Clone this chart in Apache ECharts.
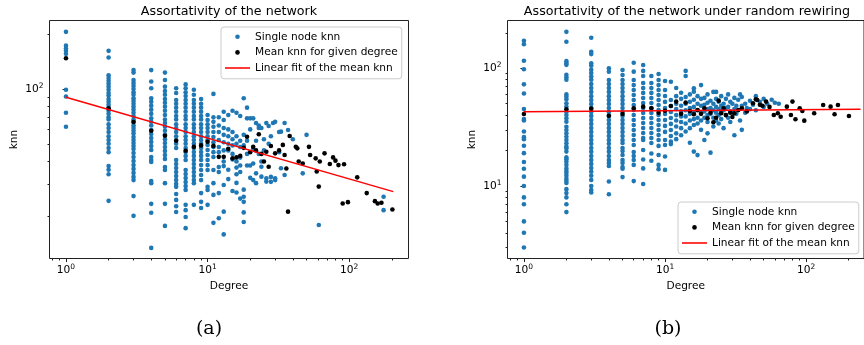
<!DOCTYPE html>
<html>
<head>
<meta charset="utf-8">
<script src="https://cdn.jsdelivr.net/npm/echarts@6/dist/echarts.min.js"></script>
<style>
html, body { margin: 0; padding: 0; background: #fff; }
#chart { width: 864px; height: 345px; }
</style>
</head>
<body>
<div id="chart"></div>
<script>
// ---- data: (a) original network ----
const degA = [1, 2, 3, 4, 5, 6, 7, 8, 9, 10, 11, 12, 13, 14, 15, 16, 17, 18, 19, 20,
  21, 22, 23, 24, 25, 26, 27, 28, 29, 30, 32, 33, 35, 37, 40, 47, 50, 61, 175]
const knnA = [
  [206, 173, 167, 162, 156, 99, 91, 74, 62],
  [162, 149, 119, 115, 111, 107, 103, 99, 95, 92, 88, 85, 82, 79, 76, 73, 70, 68, 64, 61, 58, 55, 52.5, 50, 47.4, 45, 37.7, 36, 34, 24.3],
  [127, 123, 112, 108, 104, 100, 96, 93, 89, 86, 83, 80, 77, 74, 71, 68, 66, 63, 61, 59, 57, 54.5, 52.5, 50.5, 48.6, 46.8, 44.5, 42.3, 40.2, 38.2, 36.4, 34.6, 32.9, 31.6, 25.8, 20.1],
  [127, 110, 101, 89, 85, 81, 77, 73, 69, 66, 63, 59.5, 56.6, 53.8, 51.2, 48.6, 46.2, 42.3, 40.7, 39.7, 31.2, 30.4, 23.4, 20.9, 13.4],
  [123, 112, 103, 97.5, 93, 88, 84, 80, 76, 72, 68, 65, 62, 59, 56, 53, 50.5, 48, 45.7, 43.4, 41.3, 37.3, 35.9, 30.4, 23.4, 17.7],
  [101, 95, 87, 83, 79, 75, 71, 68, 64, 61, 58, 55, 52.5, 50, 47.4, 40.7, 38.7, 36.8, 35, 33.3, 31.6, 30.1, 29, 26.5, 24.6, 22.7, 21.1],
  [106, 101, 96, 91.5, 87, 83, 79, 75, 71, 68, 64, 61, 58, 55, 52.5, 50, 47.4, 45.1, 42.9, 40.7, 35.9, 34.1, 32.4, 30.8, 29.3, 27.9, 23.1, 21.6, 19.8, 17.2],
  [99, 93, 87, 83, 79, 75, 71, 68, 64, 61, 58, 55, 52.5, 50, 47.4, 45.1, 42.9, 40.7, 38.7, 36.8, 35, 33.3, 31.6, 30.4, 23.1],
  [88, 83, 79, 75, 71, 68, 64, 61, 58, 55, 52.5, 50, 47.4, 45.1, 42.9, 40.7, 38.2, 35.9, 33.7, 31.6, 26.8, 24, 22.2],
  [72, 67.6, 64, 61, 58, 55, 52.5, 49.3, 46.2, 43.4, 40.7, 38.2, 35.9, 29, 27.9, 23.1],
  [94, 70, 66, 62, 58, 54.5, 51, 48, 45, 42.3, 35.9, 30.4, 26.2, 18.4],
  [70, 63, 58, 52.5, 48, 45, 37.3, 35, 26.8, 19.5],
  [75, 67.6, 61, 56, 51, 46, 40, 37.7, 29.7, 21.2, 15.9],
  [72, 60, 55, 50, 46, 36, 32],
  [76, 58, 53, 49, 44, 41, 27.5],
  [74, 55, 50, 40, 37, 34, 30.5, 27],
  [71, 52, 48, 42, 38, 35, 25],
  [89, 56, 49, 28, 25.6, 24, 21, 18.6],
  [79, 69, 52, 44, 38],
  [69, 60, 38, 32.5],
  [69, 47, 39, 31.6],
  [65, 52, 34.4, 30.4],
  [63, 61, 44],
  [61, 40, 37.4, 33],
  [53, 46],
  [65, 32.3, 31],
  [62.6, 50],
  [55, 32.9, 30.9],
  [65],
  [66, 32.3, 31.6],
  [58, 45],
  [58.3, 36.7],
  [65, 33.7],
  [59.5],
  [53],
  [34.4],
  [56],
  [17.9],
  [25.6, 21.6]
]
const meanA = [[1, 147.5], [2, 78.3], [3, 65.9], [4, 59], [5, 55.4], [6, 52], [7, 45.8], [8, 48.1],
  [9, 49], [10, 51.3], [11, 48.7], [12, 42.4], [13, 42.4], [14, 47], [15, 41.6], [16, 42.1],
  [17, 42.9], [18, 47.5], [19, 54.7], [20, 45], [21, 48.1], [22, 46], [23, 56.4], [24, 44],
  [25, 40], [26, 45.2], [27, 37.4], [28, 48.6], [30, 44.3], [32, 46], [34, 49.3], [35, 43.4],
  [36, 36.6], [37, 21.2], [38, 55.2], [42, 48.1], [43, 47.2], [44, 40], [47, 39], [52, 48.1],
  [53, 43.4], [58, 41.6], [59, 35.2], [61, 29.1], [62, 40], [67, 44.3], [73, 38.7], [77, 42.1],
  [80, 40.4], [84, 38.2], [90, 23.5], [92, 38.6], [98, 23.9], [114, 32.7], [133, 26.8],
  [152, 24.2], [159, 23.5], [169, 23.7], [202, 21.8]]
const fitA = [[1, 90], [205, 27.3]]

// ---- data: (b) random rewiring ----
const degB = [1, 2, 3, 4, 5, 6, 7, 8, 9, 10, 11, 12, 13, 14, 15, 16, 17, 18, 19, 20,
  21, 22, 23, 24, 25, 26, 27, 28, 29, 30, 31, 32, 33, 34, 35, 37, 38, 40, 42, 44, 47, 50, 53, 57, 60, 64]
const knnB = [
  [171, 160, 116, 98, 73, 61, 45, 37, 36, 29, 26, 25, 22, 19, 16, 14, 12, 10, 8, 7, 5, 4, 3],
  [204, 168, 115, 110, 107, 88, 84, 80, 60, 57.4, 54.6, 50.5, 47.2, 42.5, 40.1, 37.6, 35.2, 31.9, 29.9, 28, 26.2, 24.6, 23.1, 21.6, 20.9, 19.6, 17.5, 16.9, 16.1, 15.1, 14.1, 13.4, 12.9, 12.2, 11.5, 11, 10.6, 9.4, 8.7, 8, 7, 6],
  [182, 138, 132, 110, 105, 97, 91, 85, 80, 73.5, 68, 63, 58, 53.8, 49.8, 46, 42.5, 39.4, 36.4, 33.7, 31.1, 28.8, 26.6, 24.6, 22.8, 21, 19.5, 18, 16.6, 15.4, 14.2, 13.2, 12.2, 11.25, 10, 9.25, 8.8],
  [100, 93.6, 79.6, 73.5, 68, 63, 58, 53.8, 49.8, 46, 42.5, 39.4, 36.4, 33.7, 31.1, 28.8, 26.6, 24.6, 22.8, 21, 19.5, 18, 16.6, 15.7, 14.8, 10.9, 8.5],
  [96.7, 87.7, 79.6, 73.5, 68, 63, 58, 53.8, 49.8, 46, 42.5, 39.4, 36.4, 33.7, 31.1, 28.8, 26.6, 24.6, 23.2, 21, 19.8, 18.35, 16.6, 15.7, 14.5, 14, 11.9],
  [111.6, 93.6, 79.6, 72, 65.4, 59.3, 53.8, 48.8, 44.2, 40.1, 36.4, 33, 29.9, 27.1, 24.6, 22.3, 19.4, 18, 16.6, 15.1, 11],
  [106.7, 95, 86, 75, 68, 61.8, 55.9, 50.7, 46, 41.7, 37.8, 34.3, 31.1, 28.2, 25.6, 24.6, 20.2, 16.8, 14.1, 10.4],
  [86, 75, 68, 61.8, 55.9, 50.7, 46, 41.7, 37.8, 34.3, 31.1, 28.2, 25.6, 23.2, 18.9, 16.4],
  [89.4, 79.6, 72, 65.4, 59.3, 53.8, 48.8, 44.2, 40.1, 36.4, 33, 29.9, 27.1, 24.6, 21.9, 18.35, 15.1, 13.9],
  [78, 65.4, 58.2, 51.8, 46, 40.9, 36.4, 32.4, 28.8, 24.6, 22.3, 17.8, 13.7],
  [76.9, 53.8, 47.8, 42.5, 37.8, 33.7, 29.9, 26.6, 23.8, 22.7],
  [68, 58, 50, 45, 40, 36, 32, 28, 25],
  [62, 55, 48, 43, 39, 35, 31, 27],
  [95, 86, 57, 50, 44, 39, 34, 29],
  [60, 52, 46, 41, 36, 31, 23.3],
  [67.6, 63.3, 54, 47, 42, 37, 33, 19.6],
  [58, 50, 44, 38, 34, 18.3],
  [72, 55, 48, 42, 36, 30],
  [56, 49, 43, 38, 24.6],
  [60, 51, 45, 40, 35, 28],
  [53, 46, 41, 19.2],
  [63, 50, 44, 38, 32],
  [63, 55, 47, 42, 36],
  [52, 45, 40, 34],
  [58, 48, 43, 37],
  [50, 44, 31],
  [55, 46, 40],
  [60, 47, 38],
  [52, 43, 35],
  [50, 42],
  [56, 45, 27],
  [48, 41],
  [54, 44],
  [60, 36],
  [57, 48, 30],
  [50, 42],
  [46],
  [53, 45],
  [49],
  [58, 44],
  [52],
  [55, 47],
  [50],
  [54],
  [51],
  [50]
]
const meanB = [[1, 40.9], [2, 44.9], [3, 45.4], [4, 39.5], [5, 40.9], [6, 45.7], [7, 47.2], [8, 45.7],
  [9, 41.9], [10, 43.6], [11, 47.8], [12, 52.1], [13, 41], [14, 51.1], [15, 43.4], [16, 40.7],
  [17, 44.2], [18, 41], [19, 45.7], [20, 37.6], [21, 42], [22, 34.8], [23, 38], [24, 53.1],
  [25, 41.5], [26, 45.7], [27, 40], [29, 42], [30, 38.5], [31, 41.5], [33, 44.2], [35, 45.7],
  [38, 43], [42, 50.5], [44, 54.6], [45, 53.8], [47, 49], [49, 48], [52, 52.1], [55, 47],
  [59, 40.1], [63, 41.5], [66, 38.8], [73, 47.2], [78, 40.1], [80, 52.1], [84, 36.9], [90, 45.7],
  [94, 43.4], [97, 35.9], [114, 41.5], [132, 48.8], [149, 47.2], [159, 40.7], [168, 48.8], [201, 39.3]]
const fitB = [[1, 42.8], [243, 44.8]]

// ---- axes ----
const xRangeA = [0.765, 262.4]
const xRangeB = [0.765, 257]
const yRangeA = [11.72, 237.8]
const yRangeB = [2.42, 254.7]
const majorTicks = [1, 10, 100]
const minorTicks = [0.8, 0.9, 2, 3, 4, 5, 6, 7, 8, 9, 20, 30, 40, 50, 60, 70, 80, 90, 200, 300]

const font = 'DejaVu Sans'
const blue = '#1f77b4'
const spine = '#222'

const lg = v => Math.log10(v)
const within = (list, r) => list.filter(v => v >= r[0] && v <= r[1]).map(lg)

const flat = (degs, cols) => {
    const out = []
    degs.forEach((d, i) => cols[i].forEach(v => out.push([d, v])))
    return out
}

const labelStyle = {
    formatter: v => '{b|10}{s|' + Math.round(v) + '}',
    rich: {
        b: { fontSize: 10.6, fontFamily: font, color: '#000', lineHeight: 14 },
        s: { fontSize: 7.5, fontFamily: font, color: '#000', lineHeight: 7, verticalAlign: 'top' }
    }
}

const tickAxes = (dim, grid, range, name) => {
    const r = [lg(range[0]), lg(range[1])]
    const base = {
        gridIndex: grid, type: 'value', min: r[0], max: r[1],
        position: dim == 'x' ? 'bottom' : 'left',
        axisLine: { show: false }, splitLine: { show: false }
    }
    return [
        { gridIndex: grid, type: 'log', min: range[0], max: range[1], show: false },
        Object.assign({}, base, {
            axisTick: { customValues: within(majorTicks, range), length: 3.5, lineStyle: { color: spine, width: 1 } },
            axisLabel: Object.assign({ customValues: within(majorTicks, range), margin: dim == 'x' ? 5 : 6 }, labelStyle),
            name: name, nameLocation: 'middle', nameGap: dim == 'x' ? 20 : 30,
            nameTextStyle: { fontSize: 10.6, fontFamily: font, color: '#000' }
        }),
        Object.assign({}, base, {
            axisTick: { customValues: within(minorTicks, range), length: 2, lineStyle: { color: spine, width: 1 } },
            axisLabel: { show: false }
        })
    ]
}

const seriesFor = (ax, single, mean, fit) => [
    { type: 'scatter', name: 'Single node knn', xAxisIndex: ax, yAxisIndex: ax, data: single,
      symbolSize: 4.6, itemStyle: { color: blue, opacity: 1 } },
    { type: 'scatter', name: 'Mean knn for given degree', xAxisIndex: ax, yAxisIndex: ax, data: mean,
      symbolSize: 4.6, itemStyle: { color: '#000', opacity: 1 } },
    { type: 'line', name: 'Linear fit of the mean knn', xAxisIndex: ax, yAxisIndex: ax, data: fit,
      symbol: 'none', lineStyle: { color: 'red', width: 1.5 }, itemStyle: { color: 'red' } }
]

const legendFor = (left, top) => ({
    orient: 'vertical', left: left, top: top, padding: [2, 4, 3, 4], itemGap: 0,
    itemWidth: 25, itemHeight: 4.6, selectedMode: false,
    backgroundColor: 'rgba(255,255,255,0.8)', borderColor: '#ccc', borderWidth: 1, borderRadius: 3,
    textStyle: { fontSize: 10.6, fontFamily: font, color: '#000', lineHeight: 15.6 },
    data: ['Single node knn', 'Mean knn for given degree',
        { name: 'Linear fit of the mean knn', icon: 'path://M0,0L24,0L24,1.5L0,1.5Z' }]
})

const titleStyle = { fontSize: 12.7, fontWeight: 'normal', fontFamily: font, color: '#000' }
const capStyle = { fontSize: 19, fontWeight: 'normal', fontFamily: 'DejaVu Serif', color: '#000' }

const option = {
    animation: false,
    backgroundColor: '#fff',
    title: [
        { text: 'Assortativity of the network', left: 229, top: 5, textAlign: 'center', padding: 0, textStyle: titleStyle },
        { text: 'Assortativity of the network under random rewiring', left: 687, top: 5, textAlign: 'center', padding: 0, textStyle: titleStyle },
        { text: '(a)', left: 209, top: 320, textAlign: 'center', padding: 0, textStyle: capStyle },
        { text: '(b)', left: 668, top: 320, textAlign: 'center', padding: 0, textStyle: capStyle }
    ],
    grid: [
        { left: 49.5, top: 20.5, width: 359, height: 238, show: true, borderColor: spine, borderWidth: 1 },
        { left: 507.5, top: 20.5, width: 358.5, height: 238, show: true, borderColor: spine, borderWidth: 1 }
    ],
    xAxis: [...tickAxes('x', 0, xRangeA, 'Degree'), ...tickAxes('x', 1, xRangeB, 'Degree')],
    yAxis: [...tickAxes('y', 0, yRangeA, 'knn'), ...tickAxes('y', 1, yRangeB, 'knn')],
    legend: [legendFor(221, 27), legendFor(678, 202)],
    series: [
        ...seriesFor(0, flat(degA, knnA), meanA, fitA),
        ...seriesFor(3, flat(degB, knnB), meanB, fitB)
    ]
}

const myChart = echarts.init(document.getElementById('chart'))
myChart.setOption(option)
</script>
</body>
</html>
